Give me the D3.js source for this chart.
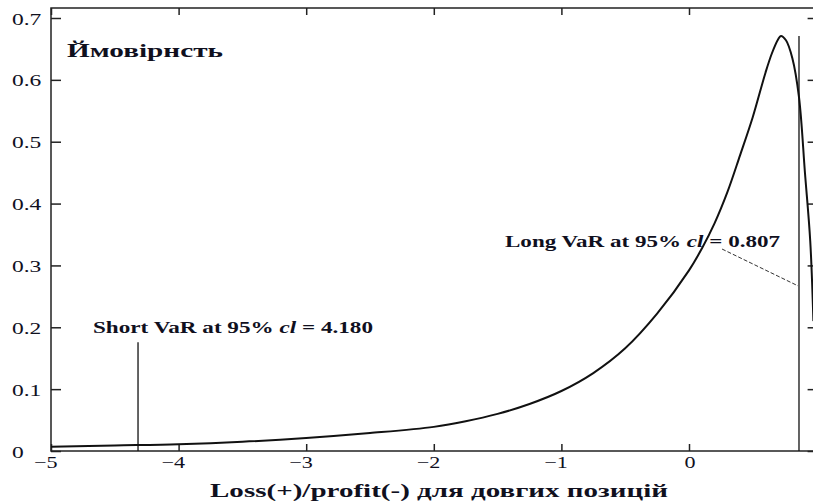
<!DOCTYPE html>
<html>
<head>
<meta charset="utf-8">
<script src="https://cdn.jsdelivr.net/npm/d3@7/dist/d3.min.js"></script>
<style>
  html, body { margin: 0; padding: 0; background: #fff; }
  svg { display: block; }
  text { font-family: "Liberation Serif", "Times New Roman", serif; fill: #10101e; }
</style>
</head>
<body>
<svg id="chart" width="813" height="504"></svg>
<script>
// ---- data ----
const curveX = [-5, -4.5, -4, -3.5, -3, -2.5, -2, -1.75, -1.5, -1.25, -1, -0.75, -0.5, -0.25, 0, 0.1, 0.2, 0.3, 0.4, 0.5, 0.6, 0.65, 0.7, 0.72, 0.76, 0.81, 0.862, 0.909, 0.95, 0.975];
const curveY = [0.007, 0.009, 0.011, 0.015, 0.021, 0.029, 0.039, 0.048, 0.060, 0.076, 0.097, 0.126, 0.166, 0.222, 0.292, 0.327, 0.368, 0.418, 0.478, 0.540, 0.612, 0.643, 0.666, 0.671, 0.664, 0.635, 0.572, 0.449, 0.340, 0.210];
const xTicks = [-5, -4, -3, -2, -1, 0];
const yTicks = [0, 0.1, 0.2, 0.3, 0.4, 0.5, 0.6, 0.7];
const xTickLabels = ["\u22125", "\u22124", "\u22123", "\u22122", "\u22121", "0"];
const yTickLabels = ["0", "0.1", "0.2", "0.3", "0.4", "0.5", "0.6", "0.7"];
const shortVaR = { x: -4.318, top: 0.176 };
const longVaR = { x: 0.862, top: 0.671 };
const longLeader = { x1: 0.259, y1: 0.3265, x2: 0.854, y2: 0.267 };
const titleText = "Ймовірнсть";
const xTitle = "Loss(+)/profit(-) для довгих позицій";

// ---- layout ----
const svg = d3.select("#chart");
const L = 51, R = 816.6, T = 8, B = 451;
const x = d3.scaleLinear().domain([-5, 1]).range([L, R]);
const y = d3.scaleLinear().domain([0, 0.7]).range([B, 18]);
const axisColor = "#222";

// frame
svg.append("rect").attr("x", L).attr("y", T).attr("width", R - L).attr("height", B - T)
  .attr("fill", "none").attr("stroke", axisColor).attr("stroke-width", 1.5);

// ticks via axes (inward)
function styleAxis(g) {
  g.select(".domain").remove();
  g.selectAll("line").attr("stroke", axisColor).attr("stroke-width", 1.5);
  g.selectAll("text").remove();
}
svg.append("g").attr("transform", `translate(0,${B})`)
  .call(d3.axisBottom(x).tickValues(xTicks).tickSizeInner(-7).tickSizeOuter(0)).call(styleAxis);
svg.append("g").attr("transform", `translate(0,${T})`)
  .call(d3.axisTop(x).tickValues(xTicks).tickSizeInner(-7).tickSizeOuter(0)).call(styleAxis);
svg.append("g").attr("transform", `translate(${L},0)`)
  .call(d3.axisLeft(y).tickValues(yTicks).tickSizeInner(-10).tickSizeOuter(0)).call(styleAxis);
svg.append("g").attr("transform", `translate(${R},0)`)
  .call(d3.axisRight(y).tickValues(yTicks).tickSizeInner(-9).tickSizeOuter(0)).call(styleAxis);

// tick labels (stretched like the reference)
function stretch(sel, factor) {
  sel.each(function () {
    const w = this.getComputedTextLength();
    d3.select(this).attr("textLength", w * factor).attr("lengthAdjust", "spacingAndGlyphs");
  });
}
svg.append("g").selectAll("text").data(yTicks).join("text")
  .attr("x", 12).attr("y", d => y(d) + 6.5)
  .attr("font-size", 17).text((d, i) => yTickLabels[i])
  .call(stretch, 1.38);
svg.append("g").selectAll("text").data(xTicks).join("text")
  .attr("x", d => x(d) + 6.5).attr("y", 468).attr("text-anchor", "end")
  .attr("font-size", 17).text((d, i) => xTickLabels[i])
  .call(stretch, 1.3);

// curve
const pts = curveX.map((v, i) => [v, curveY[i]]);
svg.append("path").datum(pts)
  .attr("fill", "none").attr("stroke", "#111").attr("stroke-width", 2)
  .attr("d", d3.line().x(d => x(d[0])).y(d => y(d[1])).curve(d3.curveCatmullRom.alpha(0.5)));

// VaR lines
svg.append("line").attr("x1", x(shortVaR.x)).attr("x2", x(shortVaR.x))
  .attr("y1", y(shortVaR.top)).attr("y2", y(0)).attr("stroke", "#111").attr("stroke-width", 1.3);
svg.append("line").attr("x1", x(longVaR.x)).attr("x2", x(longVaR.x))
  .attr("y1", y(longVaR.top)).attr("y2", y(0)).attr("stroke", "#111").attr("stroke-width", 1.3);
svg.append("line").attr("x1", x(longLeader.x1)).attr("y1", y(longLeader.y1))
  .attr("x2", x(longLeader.x2)).attr("y2", y(longLeader.y2))
  .attr("stroke", "#333").attr("stroke-width", 1).attr("stroke-dasharray", "4,2");

// texts
svg.append("text").attr("x", 67).attr("y", 57).attr("font-size", 18).attr("font-weight", "bold")
  .attr("textLength", 156).attr("lengthAdjust", "spacingAndGlyphs").text(titleText);

const st = svg.append("text").attr("x", 93).attr("y", 333).attr("font-size", 16.5).attr("font-weight", "bold")
  .attr("textLength", 280).attr("lengthAdjust", "spacingAndGlyphs");
st.append("tspan").text("Short VaR at 95% ");
st.append("tspan").attr("font-style", "italic").text("cl");
st.append("tspan").text(" = 4.180");

const lt = svg.append("text").attr("x", 505).attr("y", 247).attr("font-size", 16.5).attr("font-weight", "bold")
  .attr("textLength", 275).attr("lengthAdjust", "spacingAndGlyphs");
lt.append("tspan").text("Long VaR at 95% ");
lt.append("tspan").attr("font-style", "italic").text("cl");
lt.append("tspan").text(" = 0.807");

svg.append("text").attr("x", 210).attr("y", 497)
  .attr("font-size", 19).attr("font-weight", "bold")
  .attr("textLength", 458).attr("lengthAdjust", "spacingAndGlyphs").text(xTitle);
</script>
</body>
</html>
